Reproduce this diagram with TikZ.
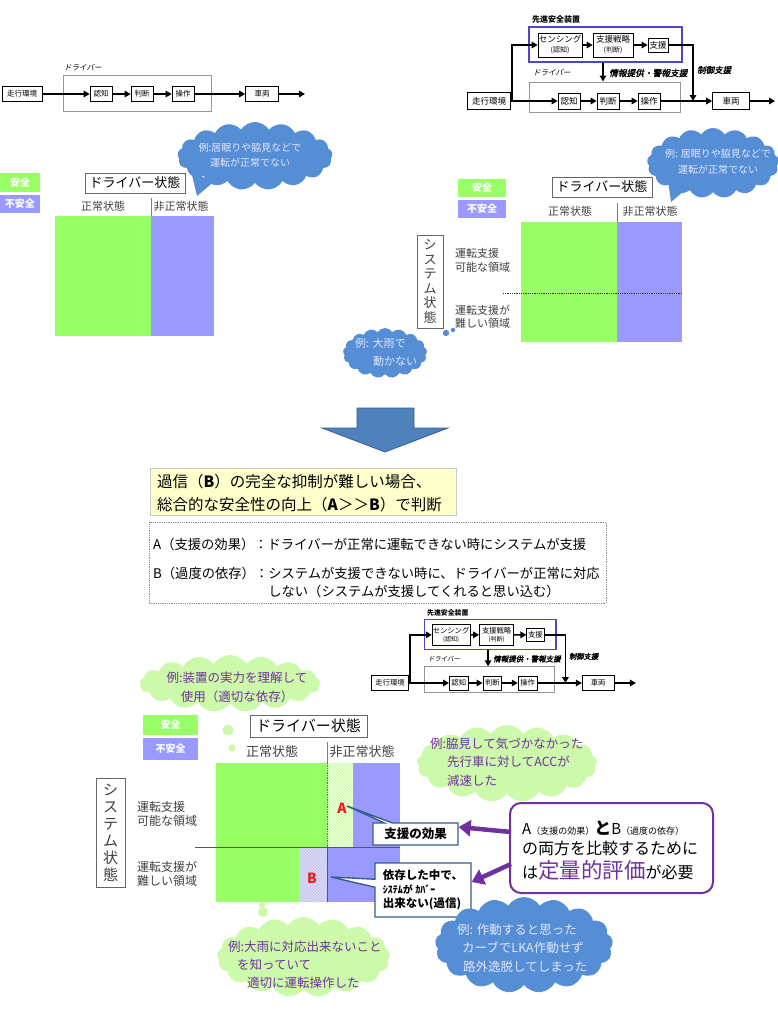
\documentclass[tikz,border=0pt]{standalone}
\usepackage{fontspec}
\setmainfont{Noto Sans CJK JP}
\newfontfamily\jpsl{Noto Sans CJK JP}[FakeSlant=0.2]
\newfontfamily\jpslb{Noto Sans CJK JP}[FakeSlant=0.2,FakeBold=2]
\usetikzlibrary{shapes.symbols,shapes.callouts,patterns,arrows.meta,calc}
\definecolor{safegreen}{RGB}{153,255,102}
\definecolor{unsafepurple}{RGB}{153,153,255}
\definecolor{cloudblue}{RGB}{85,142,213}
\definecolor{cloudgreen}{RGB}{205,250,170}
\definecolor{txtpurple}{RGB}{112,48,160}
\definecolor{arrowblue}{RGB}{79,129,189}
\definecolor{arrowedge}{RGB}{56,93,138}
\definecolor{framegray}{RGB}{150,150,150}
\definecolor{boxblue}{RGB}{80,70,200}
\definecolor{lightyellow}{RGB}{255,255,204}
\definecolor{lavender}{RGB}{200,200,240}
\definecolor{hatchgreen}{RGB}{204,255,170}
\definecolor{textgray}{RGB}{64,64,64}
\definecolor{cloudtext}{RGB}{225,230,255}
\definecolor{redlabel}{RGB}{230,30,30}
\newcommand\fsz[2]{\fontsize{#1}{#2}\selectfont}
\newcommand\advflow{%
  \node[dlabel,font=\bfseries\fsz{8}{9}] (devlbl) at (43,-82) {先進安全装置};
  \node[advbox,minimum width=153pt,minimum height=35pt] (adas) at (116.5,-56.5) {};
  \node[fbox,minimum width=44pt,minimum height=24pt,align=center,font=\fsz{8.5}{10}] (sens) at (71,-56) {センシング\\{\fsz{7}{8}(認知)}};
  \node[fbox,minimum width=40pt,minimum height=24pt,align=center,font=\fsz{8.5}{10}] (strat) at (124,-56) {支援戦略\\{\fsz{7}{8}(判断)}};
  \node[fbox,minimum width=20pt,minimum height=14pt] (assist) at (169,-56) {支援};
  \node[dlabel,font=\jpsl\fsz{7.5}{8}] (drvlbl) at (44,-28) {ドライバー};
  \node[drvbox,minimum width=151pt,minimum height=30pt] (drv) at (115.5,-4) {};
  \node[fbox,minimum width=43pt,minimum height=17pt] (env) at (0,0) {走行環境};
  \node[fbox,minimum width=22pt,minimum height=16pt] (rec) at (80,0) {認知};
  \node[fbox,minimum width=22pt,minimum height=16pt] (jud) at (119,0) {判断};
  \node[fbox,minimum width=22pt,minimum height=16pt] (op) at (160,0) {操作};
  \node[fbox,minimum width=37pt,minimum height=17pt] (veh) at (242,0) {車両};
  \coordinate (split) at (23,0);
  \coordinate (out) at (286,0);
  \coordinate (ctrl) at (204,0);
  \coordinate (infox) at (114,0);
  \node[dlabel,font=\jpslb\fsz{8.7}{9}] (infolbl) at (120,-28) {情報提供・警報支援};
  \node[dlabel,font=\jpslb\fsz{8.5}{9}] (ctrllbl) at (208,-31) {制御支援};
  \draw[flowarrow] (env) -- (rec);
  \draw[flowarrow] (rec) -- (jud);
  \draw[flowarrow] (jud) -- (op);
  \draw[flowarrow] (op) -- (veh);
  \draw[flowarrow] (veh) -- (out);
  \draw[flowarrow] (split) |- (sens);
  \draw[flowarrow] (sens) -- (strat);
  \draw[flowarrow] (strat) -- (assist);
  \draw[flowarrow] (assist) -| (ctrl);
  \draw[flowarrow] (adas.south -| infox) -- (drv.north -| infox);
}
\begin{document}
\begin{tikzpicture}[x=1pt,y=-1pt,
  txt/.style={inner sep=0pt},
  fbox/.style={draw=black,line width=0.7pt,fill=white,inner sep=0.5pt,font=\fsz{8.5}{10}},
  fbox0/.style={fbox,font=\fsz{7.5}{9}},
  advbox/.style={draw=boxblue,line width=1.1pt},
  drvbox/.style={draw=framegray,line width=0.9pt},
  dlabel/.style={inner sep=0pt,anchor=west},
  flowarrow/.style={draw=black,line width=1.6pt,-{Triangle[length=6pt,width=6.5pt]}},
  legendg/.style={fill=safegreen,text=white,inner sep=0pt,font=\bfseries\fsz{10}{12}},
  legendp/.style={fill=unsafepurple,text=white,inner sep=0pt,font=\bfseries\fsz{10}{12}},
  statebox/.style={draw=black!60,fill=white,line width=0.8pt,inner sep=0pt},
  graytxt/.style={inner sep=0pt,text=textgray},
  cloudb/.style={cloud,cloud puffs=17,cloud puff arc=115,cloud ignores aspect,fill=cloudblue,inner sep=0pt},
  cloudg/.style={cloud,cloud puffs=17,cloud puff arc=115,cloud ignores aspect,fill=cloudgreen,inner sep=0pt},
  callbox/.style={rectangle callout,draw=arrowedge,line width=1.4pt,fill=white,inner sep=0pt,callout pointer width=8pt},
  purplearrow/.style={draw=txtpurple,line width=4.5pt,-{Triangle[length=12pt,width=16pt]}},
]
\useasboundingbox (0,0) rectangle (778,1013);
\fill[white] (0,0) rectangle (778,1013);

% ---------- top-left flow ----------
\node[dlabel,font=\jpsl\fsz{7.5}{8}] (d0lbl) at (64,68) {ドライバー};
\node[drvbox,minimum width=148pt,minimum height=36pt] (d0) at (137,93) {};
\node[fbox0,minimum width=40pt,minimum height=15pt] (e0) at (22,94) {走行環境};
\node[fbox0,minimum width=22pt,minimum height=15pt] (r0) at (101,94) {認知};
\node[fbox0,minimum width=22pt,minimum height=15pt] (j0) at (142,94) {判断};
\node[fbox0,minimum width=22pt,minimum height=15pt] (o0) at (183,94) {操作};
\node[fbox0,minimum width=33pt,minimum height=15pt] (v0) at (262,94) {車両};
\coordinate (out0) at (305,94);
\draw[flowarrow] (e0) -- (r0);
\draw[flowarrow] (r0) -- (j0);
\draw[flowarrow] (j0) -- (o0);
\draw[flowarrow] (o0) -- (v0);
\draw[flowarrow] (v0) -- (out0);

% ---------- top-right flow ----------
\begin{scope}[xshift=489pt,yshift=-101pt,name prefix=t-]
\advflow
\end{scope}

% ---------- top-left matrix ----------
\fill[cloudblue] (192,175) -- (197,196) -- (216,180) -- cycle;
\node[cloudb,minimum width=155pt,minimum height=68pt] (c1) at (255,156) {};
\node[txt,align=center,text=cloudtext,font=\fsz{10}{15}] (c1t) at (250,155.5) {例:居眠りや脇見などで\\運転が正常でない};
\node[legendg,minimum width=40pt,minimum height=19pt] (lg1) at (20,182.5) {安全};
\node[legendp,minimum width=40pt,minimum height=18pt] (lp1) at (20,204) {不安全};
\node[statebox,minimum width=100pt,minimum height=20pt,font=\fsz{13}{14}] (ds1) at (135,183) {ドライバー状態};
\node[graytxt,font=\fsz{11}{12}] (n1) at (103,206) {正常状態};
\node[graytxt,font=\fsz{11}{12}] (a1) at (181,206) {非正常状態};
\draw[gray,line width=0.6pt] (151,198) -- (151,216);
\fill[safegreen] (55,216) rectangle (151,336);
\fill[unsafepurple] (151,216) rectangle (214,336);

% ---------- top-right matrix ----------
\fill[cloudblue] (668,180) -- (671,202) -- (690,186) -- cycle;
\node[cloudb,minimum width=132pt,minimum height=70pt] (c2) at (713,163) {};
\node[txt,align=center,text=cloudtext,font=\fsz{10}{16}] (c2t) at (718,161.5) {例: 居眠りや脇見などで\\運転が正常でない};
\node[legendg,minimum width=48pt,minimum height=18pt] (lg2) at (482,188) {安全};
\node[legendp,minimum width=48pt,minimum height=18pt] (lp2) at (482,209) {不安全};
\node[statebox,minimum width=100pt,minimum height=20pt,font=\fsz{13}{14}] (ds2) at (602,187) {ドライバー状態};
\node[graytxt,font=\fsz{11}{12}] (n2) at (570,211) {正常状態};
\node[graytxt,font=\fsz{11}{12}] (a2) at (650,211) {非正常状態};
\draw[gray,line width=0.6pt] (617,203) -- (617,222);
\fill[safegreen] (521,222) rectangle (617,342);
\fill[unsafepurple] (617,222) rectangle (682,342);
\draw[black!80,densely dotted,line width=0.8pt] (503,293) -- (682,293);
\node[statebox,minimum width=26pt,minimum height=93pt,align=center,font=\fsz{13}{14.5},text=textgray] (sys2) at (430,281.5) {シ\\ス\\テ\\ム\\状\\態};
\node[graytxt,anchor=west,align=left,font=\fsz{11}{14}] (p2) at (455,260) {運転支援\\可能な領域};
\node[graytxt,anchor=west,align=left,font=\fsz{11}{13}] (h2) at (455,317) {運転支援が\\難しい領域};
\node[cloudb,minimum width=84pt,minimum height=50pt] (c3) at (385,353) {};
\fill[cloudblue] (446,333) circle (3.2pt) (453,330) circle (2.2pt);
\node[txt,anchor=west,align=left,text=cloudtext,font=\fsz{11}{18}] (c3t) at (355,352) {例: 大雨で\\\hspace*{18pt}動かない};

% ---------- big arrow ----------
\filldraw[fill=arrowblue,draw=arrowedge,line width=0.8pt] (357,408) -- (414,408) -- (414,428) -- (448,428) -- (385,452) -- (322,428) -- (357,428) -- cycle;

% ---------- yellow box ----------
\node[fill=lightyellow,draw=black!20,minimum width=306pt,minimum height=47pt] (yb) at (303,491.5) {};
\node[txt,anchor=west,align=left,font=\fsz{15.5}{23}] (ybt) at (157,493.5) {過信（\textbf{B}）の完全な抑制が難しい場合、\\総合的な安全性の向上（\textbf{A}＞＞\textbf{B}）で判断};

% ---------- dashed box ----------
\node[draw=black!45,densely dotted,line width=0.8pt,minimum width=457pt,minimum height=81pt] (db) at (377.5,562.5) {};
\node[txt,anchor=west,font=\fsz{13.3}{18}] (dbA) at (153,544) {A（支援の効果）：ドライバーが正常に運転できない時にシステムが支援};
\node[txt,anchor=west,align=left,font=\fsz{13.3}{18}] (dbB) at (153,582) {B（過度の依存）：システムが支援できない時に、ドライバーが正常に対応\\\phantom{B（過度の依存）：}しない（システムが支援してくれると思い込む）};

% ---------- bottom flow ----------
\begin{scope}[xshift=390pt,yshift=-683pt,scale=0.86,transform shape,name prefix=b-]
\advflow
\end{scope}

% ---------- bottom matrix ----------
\node[cloudg,minimum width=180pt,minimum height=57pt] (c4) at (230,683.5) {};
\fill[cloudgreen] (228,730) circle (5.5pt) (232,748) circle (3.5pt);
\node[txt,align=center,text=txtpurple,font=\fsz{12.5}{19}] (c4t) at (237,687.5) {例:装置の実力を理解して\\使用（適切な依存）};
\node[legendg,minimum width=55pt,minimum height=20pt] (lg3) at (170.5,725) {安全};
\node[legendp,minimum width=55pt,minimum height=22pt] (lp3) at (170.5,749) {不安全};
\node[statebox,minimum width=117pt,minimum height=22pt,font=\fsz{15}{16}] (ds3) at (308.5,726) {ドライバー状態};
\node[graytxt,font=\fsz{13}{14}] (n3) at (272,752) {正常状態};
\node[graytxt,font=\fsz{13}{14}] (a3) at (362,752) {非正常状態};
\draw[gray,line width=0.6pt] (327,742) -- (327,764);
\fill[safegreen] (216,763) rectangle (327,847);
\fill[safegreen] (216,847) rectangle (299,902);
\fill[unsafepurple] (353,763) rectangle (400,847);
\fill[unsafepurple] (327,847) rectangle (400,902);
\fill[hatchgreen] (327,763) rectangle (353,847);
\fill[pattern=north east lines,pattern color=white] (327,763) rectangle (353,847);
\fill[lavender] (299,847) rectangle (327,902);
\fill[pattern=north east lines,pattern color=white!50!lavender] (299,847) rectangle (327,902);
\draw[black!60,densely dotted,line width=0.7pt] (327,763) -- (327,847);
\draw[arrowedge,line width=1pt] (327,847) -- (327,902);
\draw[black!65,line width=0.9pt] (195,847) -- (400,847);
\node[txt,text=redlabel,font=\bfseries\fsz{14}{15}] (lA) at (342,808) {A};
\node[txt,text=redlabel,font=\bfseries\fsz{14}{15}] (lB) at (312,878) {B};
\node[statebox,minimum width=29pt,minimum height=109pt,align=center,font=\fsz{15}{17},text=textgray] (sys3) at (110.5,832.5) {シ\\ス\\テ\\ム\\状\\態};
\node[graytxt,anchor=west,align=left,font=\fsz{12}{14}] (p3) at (137,813.5) {運転支援\\可能な領域};
\node[graytxt,anchor=west,align=left,font=\fsz{12}{14}] (h3) at (137,873.5) {運転支援が\\難しい領域};
\node[callbox,minimum width=85pt,minimum height=22pt,font=\bfseries\fsz{12.5}{14},callout absolute pointer={(347,806)}] (eff) at (415.5,834) {支援の効果};
\node[callbox,minimum width=96pt,minimum height=54pt,align=left,font=\bfseries\fsz{11.5}{14},callout absolute pointer={(331,877)}] (dep) at (423,890) {依存した中で、\\{\fsz{10}{14}ｼｽﾃﾑが ｶﾊﾞｰ}\\出来ない(過信)};

% clouds right
\node[cloudg,minimum width=180pt,minimum height=77pt] (c5) at (507,763.5) {};
\node[txt,anchor=west,align=left,text=txtpurple,font=\fsz{12.5}{18.5}] (c5t) at (430,762) {例:脇見して気づかなかった\\\hspace*{17pt}先行車に対してACCが\\\hspace*{17pt}減速した};
\fill[cloudgreen] (263,912) circle (5pt) (262,905) circle (3pt);
\node[cloudg,minimum width=173pt,minimum height=80pt] (c6) at (303.5,957) {};
\node[txt,anchor=west,align=left,text=txtpurple,font=\fsz{12.5}{18}] (c6t) at (228,965) {例:大雨に対応出来ないこと\\\hspace*{9pt}を知っていて\\\hspace*{19pt}適切に運転操作した};
\node[cloudb,minimum width=178pt,minimum height=96pt] (c7) at (524,945) {};
\node[txt,anchor=west,align=left,text=cloudtext,font=\fsz{12.5}{18.5}] (c7t) at (457,948) {例: 作動すると思った\\\hspace*{5pt}カーブでLKA作動せず\\\hspace*{6pt}路外逸脱してしまった};

% purple box
\node[draw=txtpurple,line width=2pt,rounded corners=11pt,fill=white,minimum width=203pt,minimum height=90pt] (pbox) at (611.5,848) {};
\node[txt,anchor=west,font=\fsz{15}{18}] (pb1) at (522,828) {A{\fsz{9}{12}（支援の効果）}{\bfseries\fsz{17}{18}と}B{\fsz{9}{12}（過度の依存）}};
\node[txt,anchor=west,font=\fsz{16}{18}] (pb2) at (522,848) {の両方を比較するために};
\node[txt,anchor=west,font=\fsz{16}{18}] (pb3) at (522,870) {は{\color{txtpurple}\fsz{21.5}{24}定量的評価}が必要};
\coordinate (pa1) at (511,832);
\coordinate (pa2) at (511,864);
\draw[purplearrow] (pa1) -- ($(eff.east)+(0,-7)$);
\draw[purplearrow] (pa2) -- ($(dep.east)+(0,-8)$);
\end{tikzpicture}
\end{document}
